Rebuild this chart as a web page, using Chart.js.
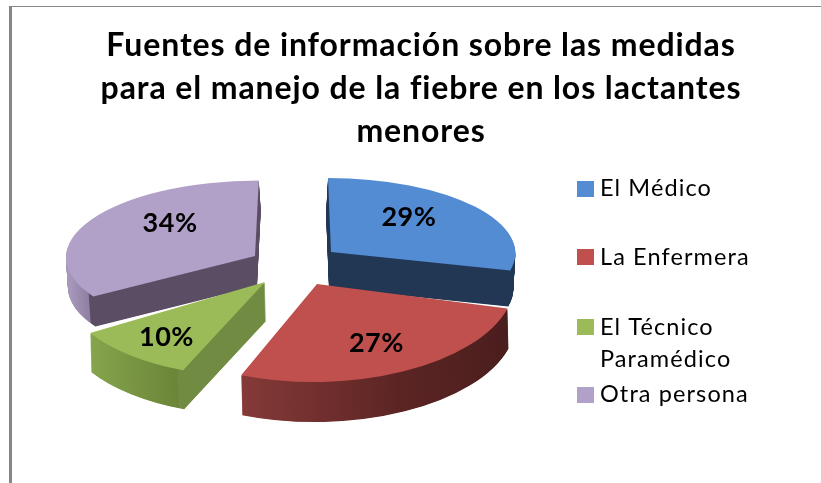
<!DOCTYPE html>
<html lang="es">
<head>
<meta charset="utf-8">
<style>
html,body{margin:0;padding:0;background:#fff;width:821px;height:483px;overflow:hidden}
#frame{position:absolute;left:9px;top:6px;right:0;bottom:0;border-left:3px solid #868686;border-top:1px solid #868686}
#c{position:absolute;left:0;top:0;filter:blur(0.5px)}
</style>
<script src="https://cdn.jsdelivr.net/npm/chart.js@4"></script>
</head>
<body>
<div id="frame"></div>
<canvas id="c" width="821" height="483"></canvas>
<script>
const titleLines = ['Fuentes de información sobre las medidas','para el manejo de la fiebre en los lactantes','menores'];
const categories = ['El Médico','La Enfermera','El Técnico Paramédico','Otra persona'];
const legendLines = [['El Médico'],['La Enfermera'],['El Técnico','Paramédico'],['Otra persona']];
const values = [29,27,10,34];
const topColors = ['#538cd3','#c0504d','#9bbb59','#b1a0c7'];

// Per-slice projection of the flat pie onto the tilted, exploded 3D view.
const views = [
  {ax:331,ay:252,sx:0.97,sy:0.39,skew:0.016,depth:36,shift:-2,ldx:6,ldy:-12,wall:[[0,'#223754'],[821,'#223754']]},
  {ax:317,ay:284,sx:1.04,sy:0.516,skew:-0.017,depth:40,shift:1,ldx:16,ldy:16,wall:[[243,'#853a38'],[400,'#5c2524'],[508,'#4a1e1d']]},
  {ax:265,ay:282,sx:1.063,sy:0.5,skew:-0.04,depth:39,shift:1,ldx:-31,ldy:19,wall:[[91,'#86a64c'],[184,'#6c8539'],[186,'#728b42'],[270,'#728b42']]},
  {ax:255,ay:256,sx:0.995,sy:0.397,skew:-0.02,depth:30,shift:2,ldx:-3,ldy:-15,wall:[[70,'#a797bb'],[90,'#8f80a3'],[91,'#5b4e64'],[260,'#5b4e64']]}
];
const paintOrder = [0,3,2,1];
const legendRows = [{box:181,base:[196]},{box:249,base:[265]},{box:319,base:[335,367]},{box:387,base:[402]}];

function project(ctx, arc, v, d){
  ctx.transform(v.sx,0,v.sx*v.skew,v.sy,v.ax+v.shift*d/v.depth,v.ay+d);
  ctx.translate(-arc.x,-arc.y);
}
function paintArc(ctx, arc, fill){
  const saved = arc.options;
  const o = Object.create(saved);
  o.backgroundColor = fill;
  arc.options = o;
  arc.draw(ctx);
  arc.options = saved;
}
function wallFill(ctx, arc, v){
  const toUser = x => (x - v.ax)/v.sx + arc.x;
  const x0 = v.wall[0][0], x1 = v.wall[v.wall.length-1][0];
  const g = ctx.createLinearGradient(toUser(x0),0,toUser(x1),0);
  v.wall.forEach(s => g.addColorStop((s[0]-x0)/(x1-x0), s[1]));
  return g;
}

const pie3d = {
  id:'pie3d',
  beforeDraw(chart){ chart.ctx.letterSpacing = '0.9px'; },
  beforeDatasetDraw(chart,args){
    const ctx = chart.ctx, arcs = args.meta.data;
    paintOrder.forEach(i => {
      const arc = arcs[i], v = views[i];
      for(let d=v.depth;d>=1;d-=0.5){
        ctx.save(); project(ctx,arc,v,d);
        paintArc(ctx,arc,wallFill(ctx,arc,v));
        ctx.restore();
      }
      ctx.save(); project(ctx,arc,v,0);
      paintArc(ctx,arc,topColors[i]);
      ctx.restore();
    });
    return false;
  },
  afterDraw(chart){
    const ctx = chart.ctx, arcs = chart.getDatasetMeta(0).data;
    ctx.save();
    ctx.fillStyle = '#000';
    ctx.textAlign = 'center'; ctx.textBaseline = 'middle';
    ctx.letterSpacing = '0.5px';
    ctx.font = 'bold 27px Lato';
    arcs.forEach((arc,i) => {
      const v = views[i], p = arc.tooltipPosition();
      const ux = p.x-arc.x, uy = p.y-arc.y;
      const x = v.ax + v.sx*(ux + v.skew*uy) + v.ldx;
      const y = v.ay + v.sy*uy + v.ldy;
      ctx.fillText(values[i]+'%',x,y);
    });
    ctx.textAlign = 'left'; ctx.textBaseline = 'alphabetic';
    ctx.letterSpacing = '1.1px';
    ctx.font = '23.5px Lato';
    legendRows.forEach((r,i) => {
      ctx.fillStyle = topColors[i];
      ctx.fillRect(577,r.box,17,16);
      ctx.fillStyle = '#000';
      legendLines[i].forEach((t,k) => ctx.fillText(t,600,r.base[k]));
    });
    ctx.restore();
    ctx.letterSpacing = '0px';
  }
};

new Chart(document.getElementById('c'),{
  type:'pie',
  data:{labels:categories,datasets:[{data:values,backgroundColor:topColors,borderWidth:0,clip:false}]},
  options:{
    responsive:false,
    animation:false,
    radius:190,
    layout:{padding:{left:21}},
    plugins:{
      legend:{display:false},
      tooltip:{enabled:false},
      title:{display:true,text:titleLines,color:'#000',
        font:{family:'Lato',size:32,weight:'bold',lineHeight:1.35},
        padding:{top:24,bottom:10}}
    }
  },
  plugins:[pie3d]
});
</script>
</body>
</html>
